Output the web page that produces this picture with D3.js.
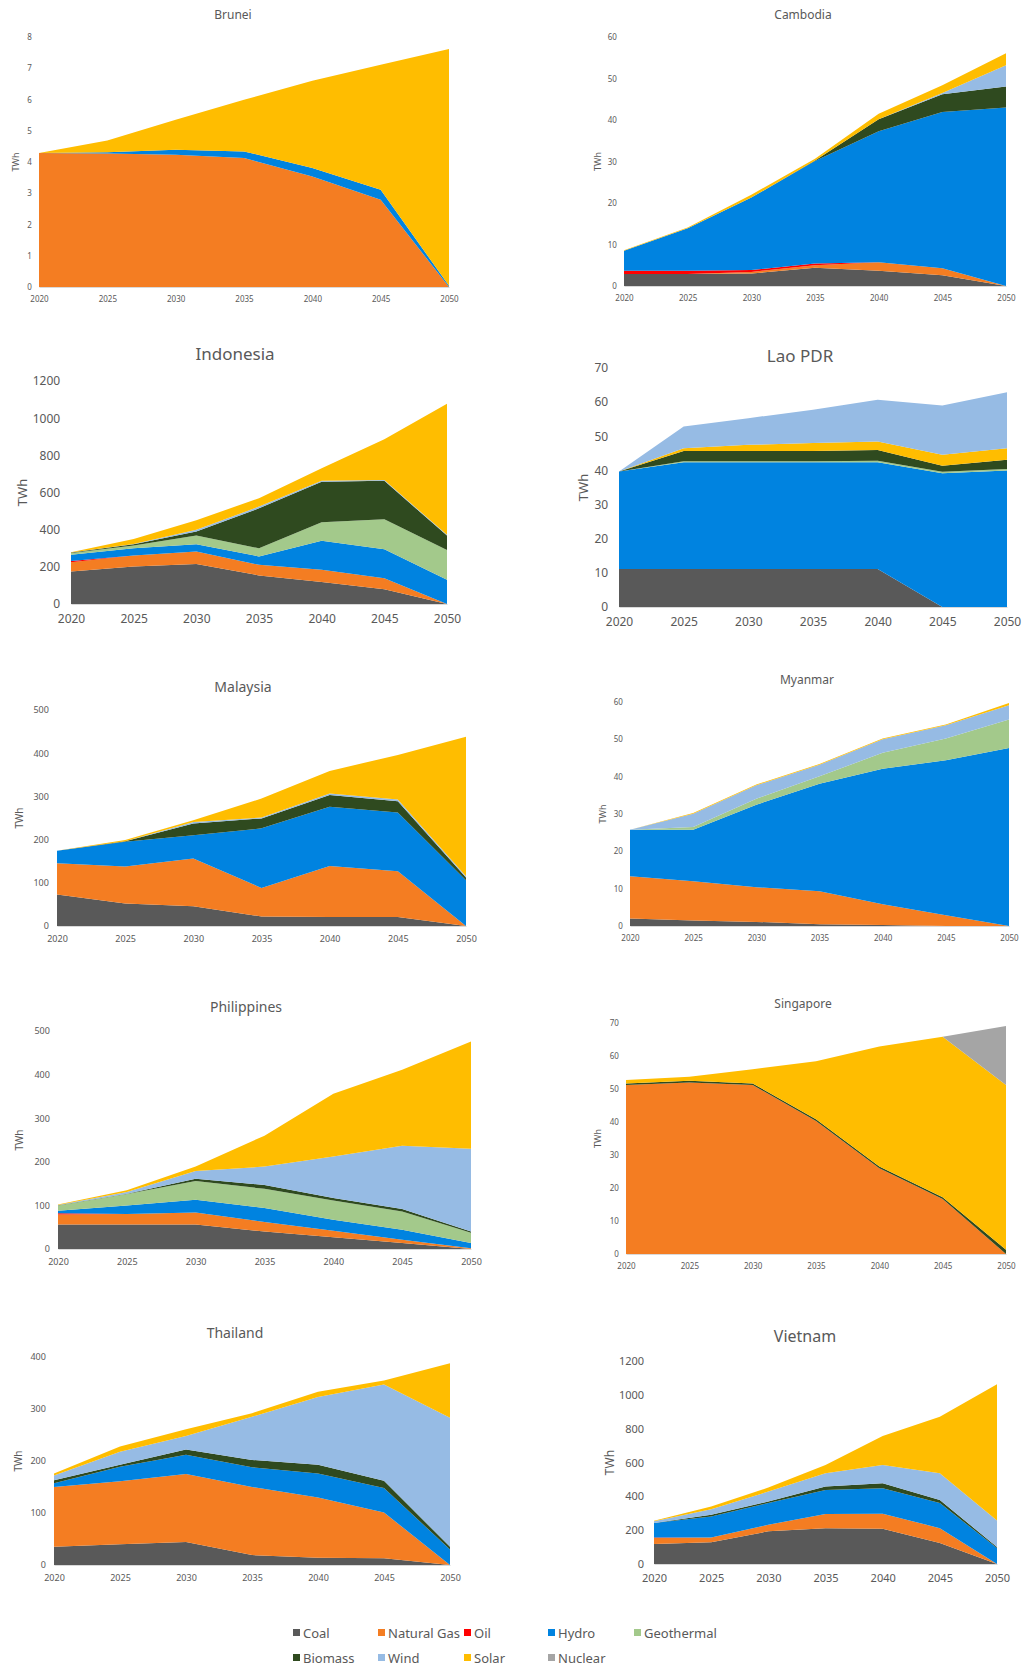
<!DOCTYPE html>
<html>
<head>
<meta charset="utf-8">
<script src="https://cdn.jsdelivr.net/npm/d3@7"></script>
<style>
  body { margin: 0; background: #fff; }
  text { font-family: "Noto Sans", "Liberation Sans", sans-serif; fill: #595959; }
</style>
</head>
<body>
<svg id="chart" width="1024" height="1669"></svg>
<script>
// years on the x axis of every panel
var years = [2020, 2025, 2030, 2035, 2040, 2045, 2050];

var sourceNames = ["Coal", "Natural Gas", "Oil", "Hydro", "Geothermal", "Biomass", "Wind", "Solar", "Nuclear"];
var sourceColors = ["#595959", "#f47d22", "#ff0000", "#0083e0", "#a3c98b", "#2f4a1f", "#96bbe4", "#ffbd00", "#a5a5a5"];

// generation in TWh, one array per source
var brunei = {
    "Natural Gas": [4.29, 4.27, 4.23, 4.13, 3.54, 2.79, 0],
    "Hydro":       [0, 0.04, 0.16, 0.21, 0.27, 0.32, 0.04],
    "Solar":       [0, 0.38, 0.96, 1.65, 2.79, 4.0, 7.58]
};
var cambodia = {
    "Coal":        [2.9, 2.9, 3.0, 4.4, 3.7, 2.6, 0],
    "Natural Gas": [0, 0, 0.4, 0.6, 2.0, 1.65, 0],
    "Oil":         [0.8, 0.8, 0.45, 0.4, 0, 0, 0],
    "Hydro":       [4.8, 10.2, 17.45, 24.75, 31.6, 37.65, 43.0],
    "Biomass":     [0, 0, 0, 0.1, 2.9, 4.3, 5.1],
    "Wind":        [0, 0, 0, 0, 0, 0.3, 5.1],
    "Solar":       [0.1, 0.2, 0.7, 0.4, 1.3, 1.9, 2.9]
};
var indonesia = {
    "Coal":        [175, 202, 215, 154, 118, 80, 0],
    "Natural Gas": [49, 59, 68, 57, 66, 59, 0],
    "Oil":         [8, 0, 0, 0, 0, 0, 0],
    "Hydro":       [33, 39, 39, 45, 156, 156, 131],
    "Geothermal":  [9, 15, 46, 44, 100, 161, 160],
    "Biomass":     [3, 7, 22, 215, 218, 207, 77],
    "Wind":        [0, 1, 9, 9, 5, 4, 4],
    "Solar":       [2, 27, 52, 45, 67, 220, 706]
};
var lao = {
    "Coal":        [11.1, 11.1, 11.1, 11.1, 11.1, 0, 0],
    "Hydro":       [28.6, 31.3, 31.3, 31.3, 31.3, 39.2, 40.0],
    "Geothermal":  [0, 0.3, 0.3, 0.3, 0.4, 0.4, 0.4],
    "Biomass":     [0, 3.0, 3.0, 3.0, 3.2, 1.8, 2.7],
    "Solar":       [0, 0.8, 1.8, 2.3, 2.5, 3.2, 3.4],
    "Wind":        [0, 6.4, 7.8, 9.8, 12.2, 14.4, 16.4]
};
var malaysia = {
    "Coal":        [73, 52, 46, 22, 21, 21, 0],
    "Natural Gas": [72, 86, 110, 66, 118, 106, 0],
    "Hydro":       [29, 57, 54, 138, 137, 136, 106],
    "Biomass":     [0, 1, 27, 23, 27, 26, 6],
    "Wind":        [0, 0, 4, 2, 4, 4, 3],
    "Solar":       [0, 3, 4, 44, 52, 103, 323]
};
var myanmar = {
    "Coal":        [2.0, 1.5, 1.1, 0.5, 0.3, 0, 0],
    "Natural Gas": [11.3, 10.5, 9.3, 8.8, 5.5, 2.9, 0],
    "Hydro":       [12.5, 13.8, 22.1, 28.8, 36.3, 41.5, 47.7],
    "Geothermal":  [0, 0.7, 1.6, 2.0, 4.3, 5.8, 7.6],
    "Wind":        [0, 3.6, 3.6, 3.1, 3.6, 3.6, 3.8],
    "Solar":       [0, 0.2, 0.2, 0.2, 0.2, 0.2, 0.6]
};
var philippines = {
    "Coal":        [56, 56, 56, 40, 27, 14, 0],
    "Natural Gas": [23, 24, 28, 22, 15, 7, 2],
    "Oil":         [3, 0, 0, 0, 0, 0, 0],
    "Hydro":       [6, 20, 29, 32, 25, 23, 12],
    "Geothermal":  [12, 26, 43, 44, 44, 42, 23],
    "Biomass":     [0.5, 1, 5, 9, 6, 6, 3],
    "Wind":        [0.5, 4, 18, 42, 95, 145, 190],
    "Solar":       [1, 4, 10, 71, 144, 174, 246]
};
var singapore = {
    "Natural Gas": [51.2, 52.0, 51.2, 40.3, 26.0, 16.7, 0],
    "Biomass":     [0.5, 0.5, 0.5, 0.5, 0.5, 0.5, 1.3],
    "Solar":       [1.0, 1.2, 4.3, 17.6, 36.4, 48.6, 49.9],
    "Nuclear":     [0, 0, 0, 0, 0, 0, 17.9]
};
var thailand = {
    "Coal":        [35, 40, 44, 19, 14, 13, 0],
    "Natural Gas": [115, 121, 131, 131, 116, 88, 0],
    "Hydro":       [7, 28, 37, 38, 46, 47, 30],
    "Biomass":     [6, 4, 10, 14, 17, 14, 5],
    "Wind":        [9, 25, 26, 83, 130, 185, 248],
    "Solar":       [4, 10, 13, 7, 10, 8, 105]
};
var vietnam = {
    "Coal":        [118, 128, 193, 212, 208, 124, 0],
    "Natural Gas": [35, 29, 39, 83, 89, 88, 0],
    "Oil":         [4, 0, 0, 0, 0, 0, 0],
    "Hydro":       [85, 124, 128, 143, 151, 148, 94],
    "Biomass":     [1, 10, 9, 20, 29, 19, 6],
    "Wind":        [9, 33, 59, 78, 108, 157, 157],
    "Solar":       [4, 16, 24, 49, 171, 334, 806]
};

// panel layout, in page pixels
var panels = [
    {title: "Brunei", data: brunei, yMax: 8, step: 1, l: 39, r: 449, t: 37, b: 287, tx: 233, ty: 15, ts: 12, fs: 8, yl: 16},
    {title: "Cambodia", data: cambodia, yMax: 60, step: 10, l: 624, r: 1006, t: 37, b: 286, tx: 803, ty: 15, ts: 12, fs: 8, yl: 598},
    {title: "Indonesia", data: indonesia, yMax: 1200, step: 200, l: 71, r: 447, t: 381, b: 604, tx: 235, ty: 354, ts: 17, fs: 12, yl: 22},
    {title: "Lao PDR", data: lao, yMax: 70, step: 10, l: 619, r: 1007, t: 368, b: 607, tx: 800, ty: 356, ts: 17, fs: 12, yl: 583,
        order: ["Coal", "Hydro", "Geothermal", "Biomass", "Solar", "Wind"]},
    {title: "Malaysia", data: malaysia, yMax: 500, step: 100, l: 57, r: 466, t: 710, b: 926, tx: 243, ty: 687, ts: 14, fs: 9, yl: 19},
    {title: "Myanmar", data: myanmar, yMax: 60, step: 10, l: 630, r: 1009, t: 702, b: 926, tx: 807, ty: 680, ts: 12, fs: 8, yl: 603},
    {title: "Philippines", data: philippines, yMax: 500, step: 100, l: 58, r: 471, t: 1031, b: 1249, tx: 246, ty: 1007, ts: 14, fs: 9, yl: 19},
    {title: "Singapore", data: singapore, yMax: 70, step: 10, l: 626, r: 1006, t: 1023, b: 1254, tx: 803, ty: 1004, ts: 12, fs: 8, yl: 598},
    {title: "Thailand", data: thailand, yMax: 400, step: 100, l: 54, r: 450, t: 1357, b: 1565, tx: 235, ty: 1333, ts: 14, fs: 9, yl: 18},
    {title: "Vietnam", data: vietnam, yMax: 1200, step: 200, l: 654, r: 997, t: 1361, b: 1564, tx: 805, ty: 1336, ts: 16, fs: 11, yl: 610}
];

var svg = d3.select("#chart");
var color = d3.scaleOrdinal().domain(sourceNames).range(sourceColors);

panels.forEach(function (p) {
    var g = svg.append("g");
    var keys = p.order || sourceNames.filter(function (k) { return p.data[k]; });

    var x = d3.scaleLinear().domain([2020, 2050]).range([p.l, p.r]);
    var y = d3.scaleLinear().domain([0, p.yMax]).range([p.b, p.t]);

    // rows of {year, Coal, ...} for d3.stack
    var rows = years.map(function (yr, i) {
        var row = {year: yr};
        keys.forEach(function (k) { row[k] = p.data[k][i]; });
        return row;
    });
    var layers = d3.stack().keys(keys)(rows);

    var area = d3.area()
        .x(function (d) { return x(d.data.year); })
        .y0(function (d) { return y(d[0]); })
        .y1(function (d) { return y(d[1]); });

    g.selectAll("path.layer")
        .data(layers)
        .enter()
        .append("path")
        .attr("class", "layer")
        .attr("d", area)
        .style("fill", function (d) { return color(d.key); });

    // x axis
    var xAxis = g.append("g")
        .attr("transform", "translate(0," + p.b + ")")
        .call(d3.axisBottom(x).tickValues(years).tickFormat(d3.format("d")).tickSize(0).tickPadding(p.fs * 0.4 + 6));
    xAxis.select(".domain").attr("stroke", "#d9d9d9");
    xAxis.selectAll("text").style("font-size", p.fs + "px").style("fill", "#595959");

    // y axis, labels only
    var yAxis = g.append("g")
        .attr("transform", "translate(" + p.l + ",0)")
        .call(d3.axisLeft(y).tickValues(d3.range(0, p.yMax + p.step / 2, p.step))
            .tickFormat(d3.format("d")).tickSize(0).tickPadding(p.fs * 0.9));
    yAxis.select(".domain").remove();
    yAxis.selectAll("text").style("font-size", p.fs + "px").style("fill", "#595959");

    g.append("text")
        .attr("transform", "translate(" + p.yl + "," + ((p.t + p.b) / 2) + ") rotate(-90)")
        .attr("text-anchor", "middle")
        .attr("dy", "0.35em")
        .style("font-size", (p.fs + 1) + "px")
        .text("TWh");

    g.append("text")
        .attr("x", p.tx)
        .attr("y", p.ty)
        .attr("text-anchor", "middle")
        .attr("dy", "0.35em")
        .style("font-size", p.ts + "px")
        .text(p.title);
});

// legend at the bottom, two rows
var legendX = [297, 382, 468, 552, 638];
var legend = svg.append("g")
    .selectAll("g")
    .data(sourceNames)
    .enter()
    .append("g")
    .attr("transform", function (d, i) {
        var row = i < 5 ? 0 : 1;
        var col = i < 5 ? i : i - 5;
        return "translate(" + legendX[col] + "," + (row === 0 ? 1633 : 1658) + ")";
    });

legend.append("rect")
    .attr("x", -4)
    .attr("y", -4)
    .attr("width", 7)
    .attr("height", 7)
    .style("fill", function (d) { return color(d); });

legend.append("text")
    .attr("x", 6)
    .attr("dy", "0.35em")
    .style("font-size", "13px")
    .text(function (d) { return d; });
</script>
</body>
</html>
